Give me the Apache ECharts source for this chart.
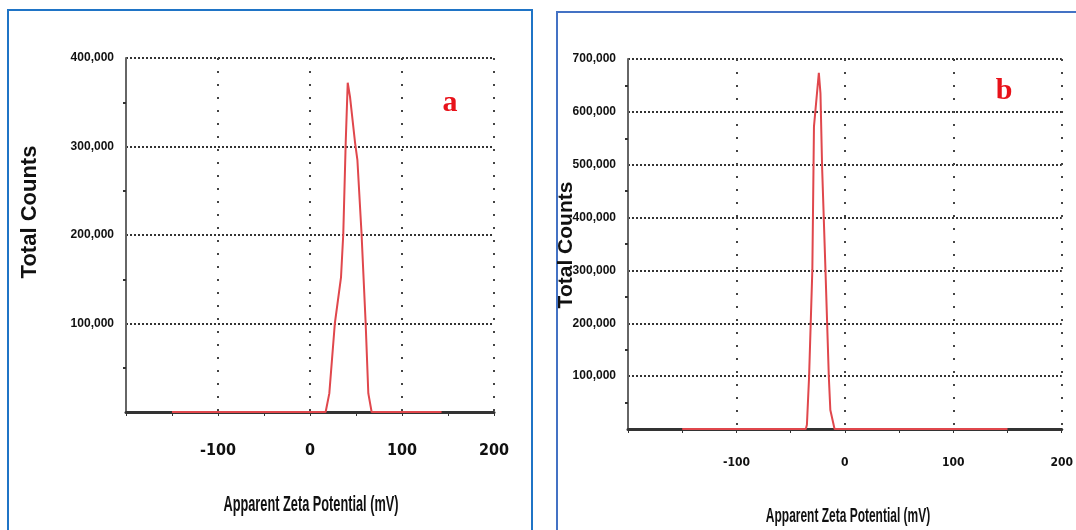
<!DOCTYPE html>
<html>
<head>
<meta charset="utf-8">
<script src="https://cdn.jsdelivr.net/npm/echarts@6/dist/echarts.min.js"></script>
<style>
  html, body { margin: 0; padding: 0; background: #fff; }
  #chart { width: 1076px; height: 530px; }
</style>
</head>
<body>
<div id="chart"></div>
<script>
// panel a: zeta potential distribution (mV vs counts)
const aPotential = [-150, 17, 21, 27, 33.7, 36.2, 38.8, 41, 43.5, 49, 51.5, 56, 60.5, 63.4, 67, 143];
const aCounts = [0, 0, 21000, 100000, 152000, 202000, 304000, 372000, 356000, 304000, 285000, 202000, 100000, 21000, 0, 0];

// panel b
const bPotential = [-150, -36, -35, -33, -30, -28.5, -24, -22.5, -21, -17.9, -14.8, -13.4, -9.5, 150];
const bCounts = [0, 0, 8000, 99000, 301000, 572000, 674000, 635000, 496000, 301000, 99000, 36000, 0, 0];

const xTicks = [-200, -100, 0, 100, 200];
const aYMax = 400000;
const bYMax = 700000;

const narrow = '"DejaVu Sans Condensed", "Liberation Sans Narrow", sans-serif';
const red = "#e0474c";

const chart = echarts.init(document.getElementById("chart"));

function xAxisFor(gridIndex, fontSize, margin) {
  return {
    type: "value",
    gridIndex,
    min: xTicks[0],
    max: xTicks[xTicks.length - 1],
    interval: 100,
    axisLine: { show: true, onZero: false, lineStyle: { color: "#333", width: 3 } },
    axisTick: { show: true, length: 4, lineStyle: { color: "#333", width: 1 } },
    minorTick: { show: true, splitNumber: 2, length: 4, lineStyle: { color: "#333", width: 1 } },
    axisLabel: {
      margin,
      color: "#111",
      fontFamily: narrow,
      fontWeight: "bold",
      fontSize,
      formatter: (v) => (v === xTicks[0] ? "" : String(v)),
    },
    splitLine: { show: true, lineStyle: { color: "#444", width: 2, type: [2, 11] } },
  };
}

function yAxisFor(gridIndex, max) {
  return {
    type: "value",
    gridIndex,
    min: 0,
    max,
    interval: 100000,
    axisLine: { show: true, onZero: false, lineStyle: { color: "#666", width: 2 } },
    axisTick: { show: false },
    minorTick: { show: true, splitNumber: 2, length: 3, lineStyle: { color: "#333", width: 2 } },
    axisLabel: {
      margin: 12,
      color: "#111",
      fontFamily: "Liberation Sans, Arial, sans-serif",
      fontWeight: "bold",
      fontSize: 12,
      formatter: (v) => (v === 0 ? "" : v.toLocaleString("en-US")),
    },
    splitLine: { show: true, lineStyle: { color: "#333", width: 2, type: [2, 2] } },
  };
}

function sideTitle(x, y, text, size) {
  return {
    type: "text",
    x,
    y,
    rotation: Math.PI / 2,
    style: {
      text,
      fill: "#111",
      font: `bold ${size}px "Liberation Sans", Arial, sans-serif`,
      textAlign: "center",
      textVerticalAlign: "middle",
    },
  };
}

// the original uses a very narrow face, so squeeze the text horizontally
function bottomTitle(x, y, text, size, squeeze) {
  return {
    type: "text",
    x,
    y,
    scaleX: squeeze,
    style: {
      text,
      fill: "#111",
      font: `bold ${size}px "Liberation Sans", Arial, sans-serif`,
      textAlign: "center",
      textVerticalAlign: "middle",
    },
  };
}

chart.setOption({
  animation: false,
  grid: [
    { left: 126, top: 58, width: 368, height: 354 },
    { left: 628, top: 59, width: 440, height: 370 },
  ],
  xAxis: [xAxisFor(0, 16, 31), xAxisFor(1, 12, 28)],
  yAxis: [yAxisFor(0, aYMax), yAxisFor(1, bYMax)],
  series: [
    {
      type: "line",
      xAxisIndex: 0,
      yAxisIndex: 0,
      showSymbol: false,
      lineStyle: { color: red, width: 2 },
      data: aPotential.map((x, i) => [x, aCounts[i]]),
    },
    {
      type: "line",
      xAxisIndex: 1,
      yAxisIndex: 1,
      showSymbol: false,
      lineStyle: { color: red, width: 2 },
      data: bPotential.map((x, i) => [x, bCounts[i]]),
    },
  ],
  graphic: [
    { type: "rect", shape: { x: 8, y: 10, width: 524, height: 530 }, style: { fill: "none", stroke: "#1f74c6", lineWidth: 2 } },
    { type: "rect", shape: { x: 557, y: 12, width: 530, height: 530 }, style: { fill: "none", stroke: "#4472c4", lineWidth: 2 } },
    sideTitle(30, 212, "Total Counts", 22),
    sideTitle(566, 245, "Total Counts", 21),
    bottomTitle(311, 505, "Apparent Zeta Potential (mV)", 22, 0.58),
    bottomTitle(848, 516, "Apparent Zeta Potential (mV)", 21, 0.57),
    {
      type: "text", x: 450, y: 103,
      style: { text: "a", fill: "#e8121a", font: 'bold 30px "Liberation Serif", "Times New Roman", serif', textAlign: "center", textVerticalAlign: "middle" },
    },
    {
      type: "text", x: 1004, y: 91,
      style: { text: "b", fill: "#e8121a", font: 'bold 30px "Liberation Serif", "Times New Roman", serif', textAlign: "center", textVerticalAlign: "middle" },
    },
  ],
});
</script>
</body>
</html>
